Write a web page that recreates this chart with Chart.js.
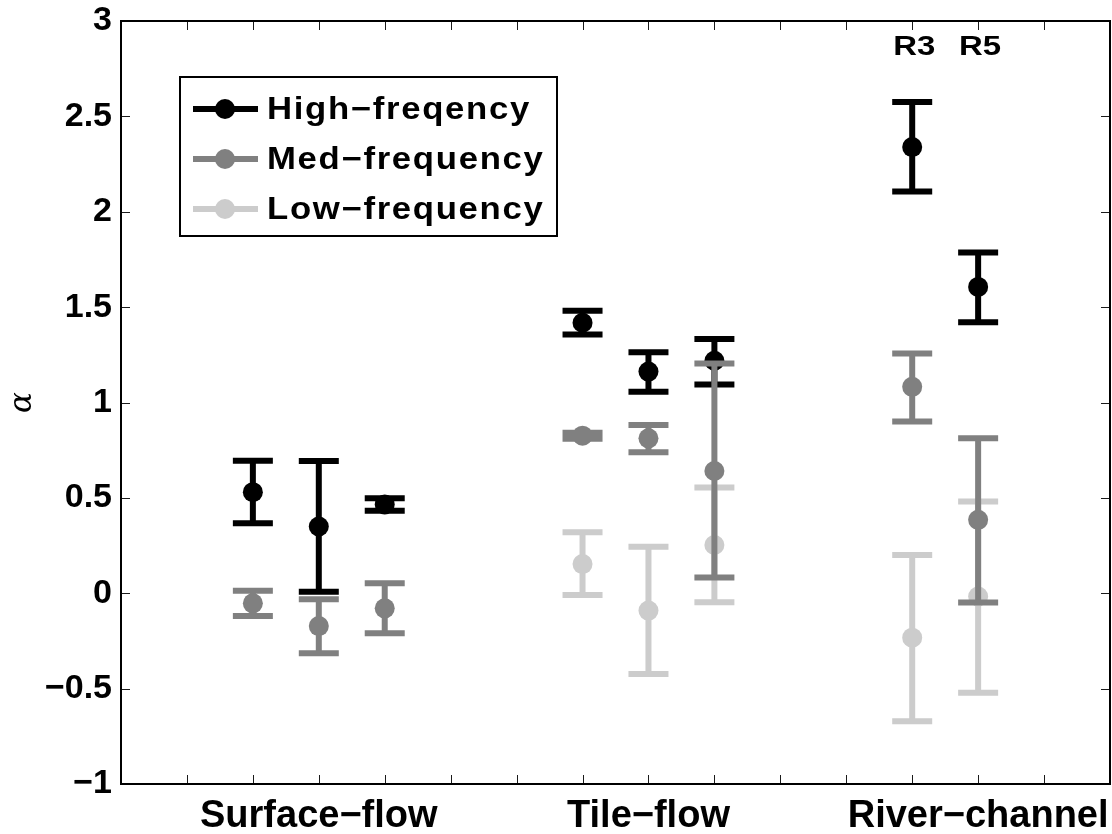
<!DOCTYPE html>
<html>
<head>
<meta charset="utf-8">
<script src="https://cdn.jsdelivr.net/npm/chart.js@4/dist/chart.umd.min.js"></script>
<style>
  html, body { margin: 0; padding: 0; background: #ffffff; }
  #wrap { width: 1112px; height: 834px; }
</style>
</head>
<body>
<div id="wrap"><canvas id="chart" width="1112" height="834"></canvas></div>
<script>
// Series names and shades (legend order)
const seriesNames = ['High\u2212freqency', 'Med\u2212frequency', 'Low\u2212frequency'];
const seriesColors = ['#000000', '#808080', '#cccccc'];

// Group labels along the x axis and where they sit
const categories = ['Surface\u2212flow', 'Tile\u2212flow', 'River\u2212channel'];
const categoryX = [3, 8, 13];

// Site labels written above the river-channel points
const siteLabels = ['R3', 'R5'];
const siteX = [12, 13];
const siteY = 2.86;

// Tick values
const yTicks = [-1, -0.5, 0, 0.5, 1, 1.5, 2, 2.5, 3];
const xTicks = [1, 2, 3, 4, 5, 6, 7, 8, 9, 10, 11, 12, 13, 14];

// High-frequency: alpha estimate with lower / upper bounds
const highX     = [2, 3, 4, 7, 8, 9, 12, 13];
const highAlpha = [0.530, 0.350, 0.465, 1.418, 1.162, 1.219, 2.339, 1.606];
const highLow   = [0.367, 0.008, 0.433, 1.357, 1.057, 1.095, 2.106, 1.421];
const highHigh  = [0.695, 0.693, 0.498, 1.481, 1.263, 1.333, 2.575, 1.786];

// Med-frequency
const medX     = [2, 3, 4, 7, 8, 9, 12, 13];
const medAlpha = [-0.053, -0.172, -0.079, 0.826, 0.812, 0.641, 1.082, 0.385];
const medLow   = [-0.119, -0.315, -0.210, 0.810, 0.739, 0.082, 0.901, -0.048];
const medHigh  = [0.013, -0.032, 0.052, 0.842, 0.882, 1.205, 1.257, 0.813];

// Low-frequency
const lowX     = [7, 8, 9, 12, 13];
const lowAlpha = [0.153, -0.091, 0.253, -0.233, -0.017];
const lowLow   = [-0.009, -0.423, -0.047, -0.671, -0.522];
const lowHigh  = [0.320, 0.244, 0.555, 0.200, 0.481];

const FONT = '"Liberation Sans", Arial, Helvetica, sans-serif';
const BAR_WIDTH = 6;
const CAP_HALF = 20;
const POINT_RADIUS = 10;

function points(xs, ys, lo, hi) {
  return xs.map((x, i) => ({ x: x, y: ys[i], yMin: lo[i], yMax: hi[i] }));
}

function fmt(v) {
  const s = String(v);
  return v < 0 ? '\u2212' + s.slice(1) : s;
}

// Bold text widened a little horizontally
function wideText(ctx, text, x, y, sx, align) {
  ctx.save();
  ctx.translate(x, y);
  ctx.scale(sx, 1);
  ctx.textAlign = align;
  ctx.fillText(text, 0, 0);
  ctx.restore();
}

// Error bars are drawn just before each series' markers
const errorBars = {
  id: 'errorBars',
  beforeDatasetDraw(chart, args) {
    const ds = chart.data.datasets[args.index];
    const xs = chart.scales.x, ys = chart.scales.y;
    const ctx = chart.ctx;
    ctx.save();
    ctx.strokeStyle = ds.backgroundColor;
    ctx.lineWidth = BAR_WIDTH;
    ctx.lineCap = 'butt';
    ds.data.forEach(p => {
      const px = xs.getPixelForValue(p.x);
      const y0 = ys.getPixelForValue(p.yMin);
      const y1 = ys.getPixelForValue(p.yMax);
      ctx.beginPath();
      ctx.moveTo(px, y0); ctx.lineTo(px, y1);
      ctx.moveTo(px - CAP_HALF, y0); ctx.lineTo(px + CAP_HALF, y0);
      ctx.moveTo(px - CAP_HALF, y1); ctx.lineTo(px + CAP_HALF, y1);
      ctx.stroke();
    });
    ctx.restore();
  }
};

// Axes box with inward tick marks on all four sides
const frame = {
  id: 'frame',
  afterDraw(chart) {
    const { ctx, chartArea: a } = chart;
    const xs = chart.scales.x, ys = chart.scales.y;
    const tl = 9;
    ctx.save();
    ctx.strokeStyle = '#1a1a1a';
    ctx.lineWidth = 1;
    ctx.beginPath();
    yTicks.forEach(v => {
      const py = Math.round(ys.getPixelForValue(v)) + 0.5;
      ctx.moveTo(a.left, py); ctx.lineTo(a.left + tl, py);
      ctx.moveTo(a.right, py); ctx.lineTo(a.right - tl, py);
    });
    xTicks.forEach(v => {
      const px = Math.round(xs.getPixelForValue(v)) + 0.5;
      ctx.moveTo(px, a.bottom); ctx.lineTo(px, a.bottom - tl);
      ctx.moveTo(px, a.top); ctx.lineTo(px, a.top + tl);
    });
    ctx.stroke();
    ctx.strokeStyle = '#000000';
    ctx.lineWidth = 2;
    ctx.strokeRect(a.left, a.top, a.right - a.left, a.bottom - a.top);
    ctx.restore();
  }
};

// Site labels and the legend box
const annotations = {
  id: 'annotations',
  afterDatasetsDraw(chart) {
    const { ctx, chartArea: a } = chart;
    const xs = chart.scales.x, ys = chart.scales.y;
    ctx.save();
    ctx.fillStyle = '#000000';
    ctx.font = 'bold 27px ' + FONT;
    ctx.textBaseline = 'middle';
    siteLabels.forEach((t, i) => {
      wideText(ctx, t, xs.getPixelForValue(siteX[i]) + 2, ys.getPixelForValue(siteY), 1.22, 'center');
    });

    ctx.font = 'bold 31px ' + FONT;
    ctx.letterSpacing = '1.5px';
    const left = a.left + 59, top = a.top + 56;
    const rowH = 50;
    const textX = 87;
    const w = 377;
    const h = 32 + rowH * (seriesNames.length - 1) + 27;
    ctx.fillStyle = '#ffffff';
    ctx.fillRect(left, top, w, h);
    ctx.lineWidth = 2;
    ctx.strokeStyle = '#000000';
    ctx.strokeRect(left, top, w, h);
    seriesNames.forEach((name, i) => {
      const cy = top + 32 + i * rowH;
      ctx.strokeStyle = seriesColors[i];
      ctx.lineWidth = BAR_WIDTH;
      ctx.beginPath();
      ctx.moveTo(left + 13, cy); ctx.lineTo(left + 78, cy);
      ctx.stroke();
      ctx.fillStyle = seriesColors[i];
      ctx.beginPath();
      ctx.arc(left + 45, cy, POINT_RADIUS, 0, Math.PI * 2);
      ctx.fill();
      ctx.fillStyle = '#000000';
      wideText(ctx, name, left + textX, cy + 1, 1.12, 'left');
    });
    ctx.restore();
  }
};

function series(i, xs, ys, lo, hi, order) {
  return {
    label: seriesNames[i],
    data: points(xs, ys, lo, hi),
    backgroundColor: seriesColors[i],
    borderColor: seriesColors[i],
    pointRadius: POINT_RADIUS,
    pointBorderWidth: 0,
    pointHoverRadius: POINT_RADIUS,
    showLine: false,
    order: order
  };
}

new Chart(document.getElementById('chart'), {
  type: 'scatter',
  data: {
    datasets: [
      series(0, highX, highAlpha, highLow, highHigh, 1),
      series(1, medX, medAlpha, medLow, medHigh, 0),
      series(2, lowX, lowAlpha, lowLow, lowHigh, 2)
    ]
  },
  options: {
    responsive: false,
    devicePixelRatio: 1,
    animation: false,
    layout: { autoPadding: false, padding: { top: 21, right: 2, left: 0, bottom: 0 } },
    plugins: { legend: { display: false }, tooltip: { enabled: false } },
    scales: {
      x: {
        type: 'linear',
        min: 0, max: 15,
        grid: { display: false, drawTicks: false },
        border: { display: false },
        afterBuildTicks(scale) { scale.ticks = categoryX.map(v => ({ value: v })); },
        afterFit(scale) { scale.height = 50; scale.paddingLeft = 0; scale.paddingRight = 0; },
        ticks: {
          autoSkip: false,
          maxRotation: 0,
          padding: 4,
          color: '#000000',
          font: { family: FONT, size: 38, weight: 'bold', lineHeight: 1.5 },
          callback(v) { const i = categoryX.indexOf(v); return i >= 0 ? categories[i] : ''; }
        }
      },
      y: {
        min: -1, max: 3,
        grid: { display: false, drawTicks: false },
        border: { display: false },
        afterBuildTicks(scale) { scale.ticks = yTicks.map(v => ({ value: v })); },
        afterFit(scale) { scale.width = 121; scale.paddingTop = 0; scale.paddingBottom = 0; },
        ticks: {
          padding: 9,
          color: '#000000',
          font: { family: FONT, size: 34, weight: 'bold' },
          callback(v) { return fmt(v); }
        },
        title: {
          display: true,
          text: '\u03b1',
          color: '#000000',
          padding: { top: 4, bottom: 0 },
          font: { family: '"DejaVu Serif", "Liberation Serif", serif', size: 31, style: 'italic' }
        }
      }
    }
  },
  plugins: [errorBars, annotations, frame]
});
</script>
</body>
</html>
